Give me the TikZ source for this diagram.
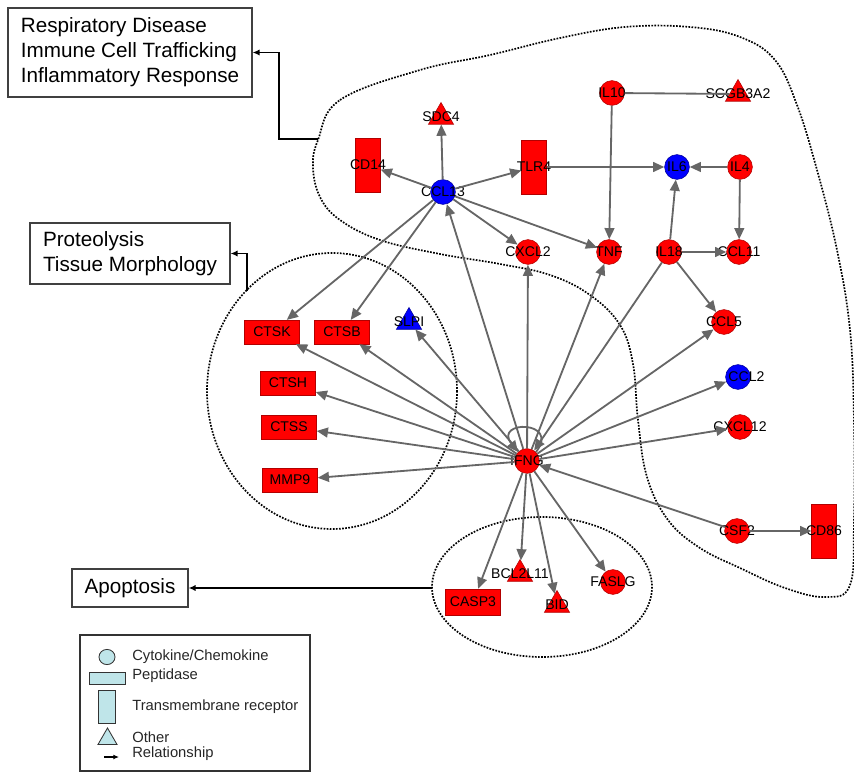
\documentclass[tikz,border=0pt]{standalone}
\usepackage{fontspec}
\setmainfont{Liberation Sans}
\usetikzlibrary{arrows.meta,shapes.geometric}
\definecolor{legcyan}{RGB}{191,229,233}
\newcommand{\lblfont}{\fontsize{10}{11}\selectfont}
\newcommand{\boxfont}{\fontsize{14.7}{17.8}\selectfont}
\newcommand{\legfont}{\fontsize{10.5}{12}\selectfont}
\tikzset{
  upreg/.style={fill=red, draw=red!70!black, line width=0.4pt},
  downreg/.style={fill=blue, draw=blue!60!black, line width=0.4pt},
  cyto/.style={circle, minimum size=0.62cm, inner sep=0pt},
  pept/.style={rectangle, draw=black!45, minimum width=1.37cm, minimum height=0.59cm, inner sep=0pt, font=\lblfont},
  tmr/.style={rectangle, draw=black!45, minimum width=0.62cm, minimum height=1.35cm, inner sep=0pt},
  othershape/.style={regular polygon, regular polygon sides=3, minimum size=0.725cm, inner sep=0pt},
  every label/.style={font=\lblfont, inner sep=0pt, text=black},
  rel/.style={draw=black!60, line width=1.3pt, -{Triangle[length=8pt,width=7pt]}},
  plainlink/.style={draw=black!60, line width=1.3pt},
  regionline/.style={line width=1.2pt, densely dotted},
  fnbox/.style={draw=black!75, line width=0.8pt, align=left, font=\boxfont, inner sep=0pt},
  fnlink/.style={line width=1pt, -{Latex[length=5pt,width=4.5pt]}},
  legshape/.style={fill=legcyan, draw=black!80, line width=0.6pt, inner sep=0pt},
  legtext/.style={anchor=west, font=\legfont, inner sep=0pt, text=black!85}
}

\begin{document}
\begin{tikzpicture}[x=0.025cm, y=-0.025cm]
		\useasboundingbox (0,0) rectangle (854,774);

		%%%%% FUNCTION BOXES %%%%%
		\node[fnbox, minimum width=6.1cm, minimum height=2.225cm] (resp) at (130,52.5) {Respiratory Disease\\Immune Cell Trafficking\\Inflammatory Response};
		\node[fnbox, minimum width=5cm, minimum height=1.525cm] (prot) at (130,253.5) {Proteolysis\\Tissue Morphology};
		\node[fnbox, align=center, minimum width=2.9cm, minimum height=0.95cm] (apop) at (130,588) {Apoptosis};

		%%%%% REGIONS %%%%%
		\draw[regionline] plot[smooth cycle, tension=0.65] coordinates {
			(318,140) (340,100) (420,70) (490,55) (560,38) (625,27) (690,27) (740,37)
			(775,60) (797,105) (817,170) (837,250) (850,330) (854,420) (854,520)
			(850,585) (825,597) (785,588) (740,568) (700,548) (668,520) (647,477)
			(638,420) (633,364) (620,325) (590,295) (550,275) (500,264) (440,254)
			(380,240) (340,220) (320,197) (313,167)};
		\draw[regionline] (332,391) ellipse [x radius=125, y radius=138];
		\draw[regionline] (542,587) ellipse [x radius=110, y radius=70];

		\coordinate (respin) at (318,139);
		\coordinate (protin) at (247,291);
		\coordinate (apopin) at (432,588);
		\draw[fnlink] (respin) -- ++(-39,0) |- (resp.east);
		\draw[fnlink] (protin) |- (prot.east);
		\draw[fnlink] (apopin) -- (apop.east);

		%%%%% MOLECULES %%%%%
		\node[cyto, downreg, label=center:CCL13] (ccl13) at (443,192) {};
		\node[othershape, upreg, label=center:SDC4] (sdc4) at (441,117) {};
		\node[tmr, upreg, label=center:CD14] (cd14) at (368,165) {};
		\node[tmr, upreg, label=center:TLR4] (tlr4) at (534,167) {};
		\node[cyto, upreg, label=center:IL10] (il10) at (612,93) {};
		\node[othershape, upreg, label=center:SCGB3A2] (scgb) at (738,94) {};
		\node[cyto, downreg, label=center:IL6] (il6) at (677,167) {};
		\node[cyto, upreg, label=center:IL4] (il4) at (740,167) {};
		\node[cyto, upreg, label=center:CXCL2] (cxcl2) at (528,252) {};
		\node[cyto, upreg, label=center:TNF] (tnf) at (609,252) {};
		\node[cyto, upreg, label=center:IL18] (il18) at (669,252) {};
		\node[cyto, upreg, label=center:CCL11] (ccl11) at (739,252) {};
		\node[cyto, upreg, label=center:CCL5] (ccl5) at (724,322) {};
		\node[cyto, downreg, label={[xshift=6pt]center:CCL2}] (ccl2) at (738,377) {};
		\node[cyto, upreg, label=center:CXCL12] (cxcl12) at (740,427) {};
		\node[cyto, upreg, label=center:CSF2] (csf2) at (737,531) {};
		\node[tmr, upreg, label=center:CD86] (cd86) at (824,531) {};
		\node[cyto, upreg, label=center:IFNG] (ifng) at (527,461) {};

		\node[pept, upreg] (ctsk) at (272,332) {CTSK};
		\node[pept, upreg] (ctsb) at (342,332) {CTSB};
		\node[othershape, downreg, label=center:SLPI] (slpi) at (409,322) {};
		\node[pept, upreg] (ctsh) at (288,383) {CTSH};
		\node[pept, upreg] (ctss) at (289,427) {CTSS};
		\node[pept, upreg] (mmp9) at (290,480) {MMP9};

		\node[pept, upreg, minimum height=0.65cm] (casp3) at (473,602) {CASP3};
		\node[othershape, upreg, label=center:BCL2L11] (bcl2l11) at (520,574) {};
		\node[othershape, upreg, label=center:BID] (bid) at (557,605) {};
		\node[cyto, upreg, label=center:FASLG] (faslg) at (613,582) {};

		%%%%% RELATIONSHIPS %%%%%
		\foreach \t in {sdc4,cd14,tlr4,cxcl2,tnf,ctsk,ctsb}
			\draw[rel] (ccl13) -- (\t);
		\draw[plainlink] (il10) -- (scgb);
		\draw[rel] (il10) -- (tnf);
		\draw[rel] (tlr4) -- (il6);
		\draw[rel] (il4) -- (il6);
		\draw[rel] (il4) -- (ccl11);
		\draw[rel] (il18) -- (il6);
		\draw[rel] (il18) -- (ccl11);
		\draw[rel] (il18) -- (ccl5);
		\foreach \t in {ccl13,cxcl2,tnf,ccl5,ccl2,cxcl12,slpi,ctsk,ctsb,ctsh,ctss,mmp9,casp3,bcl2l11,bid,faslg}
			\draw[rel] (ifng) -- (\t);
		\draw[rel] (il18) -- (ifng);
		\draw[rel] (csf2) -- (ifng);
		\draw[rel] (csf2) -- (cd86);
		\draw[rel] (ifng.45) .. controls +(25,-32) and +(-25,-32) .. (ifng.135);

		%%%%% LEGEND %%%%%
		\node[draw=black!80, line width=0.8pt, minimum width=5.75cm, minimum height=3.4cm] (legend) at (195,703) {};
		\node[legshape, ellipse, minimum width=0.4cm, minimum height=0.38cm] (legcyto) at (107,657) {};
		\node[legshape, rectangle, minimum width=0.9cm, minimum height=0.3cm] (legpept) at (107,678) {};
		\node[legshape, rectangle, minimum width=0.425cm, minimum height=0.825cm] (legtmr) at (106.5,706.5) {};
		\node[legshape, regular polygon, regular polygon sides=3, minimum size=0.55cm] (legother) at (107.5,739) {};
		\coordinate (legrelA) at (104,757);
		\coordinate (legrelB) at (119,757);
		\draw[line width=0.8pt, -{Latex[length=4pt,width=3.5pt]}] (legrelA) -- (legrelB);
		\node[legtext] at (132,657) {Cytokine/Chemokine};
		\node[legtext] at (132,676) {Peptidase};
		\node[legtext] at (132,707) {Transmembrane receptor};
		\node[legtext] at (132,737) {Other};
		\node[legtext] at (132,754) {Relationship};
	\end{tikzpicture}
\end{document}
